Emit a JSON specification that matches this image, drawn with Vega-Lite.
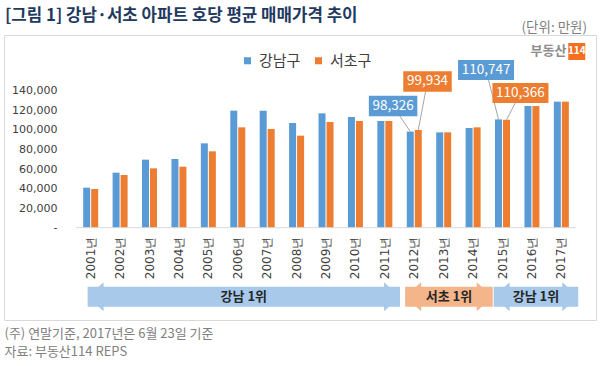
{
  "$schema": "https://vega.github.io/schema/vega-lite/v6.json",
  "width": 592,
  "height": 285,
  "autosize": {"type": "none"},
  "padding": {"left": 4, "top": 35, "right": 4, "bottom": 46},
  "background": "white",
  "title": {
    "text": "[그림 1] 강남·서초 아파트 호당 평균 매매가격 추이",
    "anchor": "start",
    "frame": "group",
    "font": "Noto Sans CJK KR",
    "fontSize": 16.8,
    "fontWeight": "bold",
    "color": "#1F3A60",
    "offset": -4,
    "dx": 1
  },
  "config": {
    "view": {"stroke": "#D9D9D9", "strokeWidth": 1},
    "font": "Noto Sans CJK KR"
  },
  "datasets": {
    "prices": [
      {"year": 2001, "강남구": 40930, "서초구": 39570},
      {"year": 2002, "강남구": 56270, "서초구": 53890},
      {"year": 2003, "강남구": 69560, "서초구": 60700},
      {"year": 2004, "강남구": 70250, "서초구": 62400},
      {"year": 2005, "강남구": 86270, "서초구": 78090},
      {"year": 2006, "강남구": 119660, "서초구": 102630},
      {"year": 2007, "강남구": 119660, "서초구": 100920},
      {"year": 2008, "강남구": 107060, "서초구": 94100},
      {"year": 2009, "강남구": 116950, "서초구": 108080},
      {"year": 2010, "강남구": 113190, "서초구": 109100},
      {"year": 2011, "강남구": 109100, "서초구": 109100},
      {"year": 2012, "강남구": 98326, "서초구": 99934},
      {"year": 2013, "강남구": 97510, "서초구": 97500},
      {"year": 2014, "강남구": 101940, "서초구": 102630},
      {"year": 2015, "강남구": 110747, "서초구": 110366},
      {"year": 2016, "강남구": 124440, "서초구": 124400},
      {"year": 2017, "강남구": 128870, "서초구": 128900}
    ],
    "callouts": [
      {"series": "강남구", "year": 2012, "value": 98326, "lyear": 2011.28, "lvalue": 124400},
      {"series": "서초구", "year": 2012, "value": 99934, "lyear": 2012.45, "lvalue": 149500},
      {"series": "강남구", "year": 2015, "value": 110747, "lyear": 2014.44, "lvalue": 161250},
      {"series": "서초구", "year": 2015, "value": 110366, "lyear": 2015.61, "lvalue": 137700}
    ],
    "arrows": [
      {"label": "강남 1위", "kind": "강남", "start": 2000.896, "end": 2011.515},
      {"label": "서초 1위", "kind": "서초", "start": 2011.69, "end": 2014.667},
      {"label": "강남 1위", "kind": "강남", "start": 2014.70, "end": 2017.574}
    ]
  },
  "layer": [
    {
      "data": {"name": "prices"},
      "mark": {"type": "bar", "width": 7, "xOffset": -4},
      "encoding": {
        "x": {
          "field": "year", "type": "quantitative",
          "scale": {"domain": [1998.223, 2018.008], "nice": false, "zero": false},
          "axis": {
            "labels": false, "domain": false, "ticks": false, "grid": false, "offset": -92.3,
            "title": ["(주) 연말기준, 2017년은 6월 23일 기준", "자료: 부동산114 REPS"],
            "titleAnchor": "start", "titleAlign": "left", "titleBaseline": "top",
            "titleFontSize": 13, "titleFontWeight": "normal", "titleColor": "#808080",
            "titleFont": "Noto Sans CJK KR", "titlePadding": 100, "titleLineHeight": 18
          }
        },
        "y": {
          "field": "강남구", "type": "quantitative",
          "scale": {"domain": [-94380, 197040], "nice": false, "zero": false},
          "axis": {
            "values": [0, 20000, 40000, 60000, 80000, 100000, 120000, 140000],
            "labelExpr": "datum.value == 0 ? '-' : format(datum.value, ',')",
            "domain": false, "ticks": false, "grid": false, "offset": -53,
            "labelPadding": 0, "labelFontSize": 11, "labelFont": "DejaVu Sans", "labelColor": "#404040",
            "title": null
          }
        },
        "y2": {"datum": 0},
        "color": {
          "datum": "강남구", "type": "nominal",
          "scale": {"domain": ["강남구", "서초구"], "range": ["#5B9BD5", "#ED7D31"]},
          "legend": {
            "orient": "none", "legendX": 236, "legendY": 18, "direction": "horizontal",
            "title": null, "symbolType": "square", "symbolSize": 50,
            "labelFontSize": 15, "labelFont": "Noto Sans CJK KR", "labelColor": "#404040",
            "columnPadding": 10, "labelOffset": 4
          }
        }
      }
    },
    {
      "data": {"name": "prices"},
      "mark": {"type": "bar", "width": 7, "xOffset": 4},
      "encoding": {
        "x": {"field": "year", "type": "quantitative"},
        "y": {"field": "서초구", "type": "quantitative"},
        "y2": {"datum": 0},
        "color": {"datum": "서초구", "type": "nominal"}
      }
    },
    {
      "data": {"name": "prices"},
      "transform": [{"calculate": "datum.year + '년'", "as": "yearLabel"}],
      "mark": {"type": "text", "angle": 270, "align": "right", "baseline": "middle", "fontSize": 12, "font": "DejaVu Sans", "color": "#404040"},
      "encoding": {
        "x": {"field": "year", "type": "quantitative"},
        "y": {"datum": -9200, "type": "quantitative"},
        "text": {"field": "yearLabel"}
      }
    },
    {
      "data": {"values": [{}]},
      "mark": {"type": "rule", "color": "#D9D9D9", "strokeWidth": 1},
      "encoding": {
        "x": {"datum": 2000.5, "type": "quantitative"},
        "x2": {"datum": 2017.5},
        "y": {"datum": 0, "type": "quantitative"}
      }
    },
    {
      "data": {"name": "callouts"},
      "transform": [{"filter": "datum.series == '강남구'"}],
      "mark": {"type": "rule", "color": "#A6A6A6", "strokeWidth": 1, "xOffset": -4},
      "encoding": {
        "x": {"field": "year", "type": "quantitative"},
        "x2": {"field": "lyear"},
        "y": {"field": "value", "type": "quantitative"},
        "y2": {"field": "lvalue"}
      }
    },
    {
      "data": {"name": "callouts"},
      "transform": [{"filter": "datum.series == '서초구'"}],
      "mark": {"type": "rule", "color": "#A6A6A6", "strokeWidth": 1, "xOffset": 4},
      "encoding": {
        "x": {"field": "year", "type": "quantitative"},
        "x2": {"field": "lyear"},
        "y": {"field": "value", "type": "quantitative"},
        "y2": {"field": "lvalue"}
      }
    },
    {
      "data": {"name": "callouts"},
      "mark": {"type": "point", "filled": true, "opacity": 1, "strokeWidth": 0, "size": 625},
      "encoding": {
        "x": {"field": "lyear", "type": "quantitative"},
        "y": {"field": "lvalue", "type": "quantitative"},
        "shape": {
          "condition": {"test": "datum.value >= 100000", "value": "M-2.24,-0.8L2.24,-0.8L2.24,0.8L-2.24,0.8Z"},
          "value": "M-1.94,-0.82L1.94,-0.82L1.94,0.82L-1.94,0.82Z"
        },
        "fill": {
          "condition": {"test": "datum.series == '강남구'", "value": "#5B9BD5"},
          "value": "#ED7D31"
        }
      }
    },
    {
      "data": {"name": "callouts"},
      "mark": {"type": "text", "color": "white", "fontSize": 13.5, "font": "Noto Sans CJK KR", "align": "center", "baseline": "middle"},
      "encoding": {
        "x": {"field": "lyear", "type": "quantitative"},
        "y": {"field": "lvalue", "type": "quantitative"},
        "text": {"field": "value", "type": "quantitative", "format": ","}
      }
    },
    {
      "data": {"name": "arrows"},
      "mark": {"type": "rect"},
      "encoding": {
        "x": {"field": "start", "type": "quantitative"},
        "x2": {"field": "end"},
        "y": {"datum": -60300, "type": "quantitative"},
        "y2": {"datum": -80800},
        "fill": {"condition": {"test": "datum.kind == '서초'", "value": "#F5B58B"}, "value": "#A8C9EA"}
      }
    },
    {
      "data": {"name": "arrows"},
      "mark": {"type": "point", "filled": true, "opacity": 1, "strokeWidth": 0, "size": 841, "shape": "M0,0L1.1,-1L1.1,1Z"},
      "encoding": {
        "x": {"field": "start", "type": "quantitative"},
        "y": {"datum": -70550, "type": "quantitative"},
        "fill": {"condition": {"test": "datum.kind == '서초'", "value": "#F5B58B"}, "value": "#A8C9EA"}
      }
    },
    {
      "data": {"name": "arrows"},
      "mark": {"type": "point", "filled": true, "opacity": 1, "strokeWidth": 0, "size": 841, "shape": "M0,0L-1.1,-1L-1.1,1Z"},
      "encoding": {
        "x": {"field": "end", "type": "quantitative"},
        "y": {"datum": -70550, "type": "quantitative"},
        "fill": {"condition": {"test": "datum.kind == '서초'", "value": "#F5B58B"}, "value": "#A8C9EA"}
      }
    },
    {
      "data": {"name": "arrows"},
      "transform": [{"calculate": "(datum.start + datum.end) / 2", "as": "mid"}],
      "mark": {"type": "text", "color": "#262626", "fontSize": 13, "fontWeight": "bold", "font": "Noto Sans CJK KR", "align": "center", "baseline": "middle"},
      "encoding": {
        "x": {"field": "mid", "type": "quantitative"},
        "y": {"datum": -70550, "type": "quantitative"},
        "text": {"field": "label"}
      }
    },
    {
      "data": {"values": [{"unit": "(단위: 만원)"}]},
      "mark": {"type": "text", "color": "#7F7F7F", "fontSize": 13.5, "font": "Noto Sans CJK KR", "align": "right", "baseline": "middle"},
      "encoding": {
        "x": {"datum": 2017.875, "type": "quantitative"},
        "y": {"datum": 204200, "type": "quantitative"},
        "text": {"field": "unit"}
      }
    },
    {
      "data": {"values": [{"brand": "부동산"}]},
      "mark": {"type": "text", "color": "#8C8C8C", "fontSize": 13, "fontWeight": "bold", "font": "Noto Sans CJK KR", "align": "right", "baseline": "middle"},
      "encoding": {
        "x": {"datum": 2017.17, "type": "quantitative"},
        "y": {"datum": 180170, "type": "quantitative"},
        "text": {"field": "brand"}
      }
    },
    {
      "data": {"values": [{"num": "114"}]},
      "mark": {"type": "point", "shape": "square", "filled": true, "opacity": 1, "strokeWidth": 0, "size": 289, "color": "#F37021"},
      "encoding": {
        "x": {"datum": 2017.524, "type": "quantitative"},
        "y": {"datum": 180170, "type": "quantitative"}
      }
    },
    {
      "data": {"values": [{"num": "114"}]},
      "mark": {"type": "text", "color": "white", "fontSize": 10, "fontWeight": "bold", "font": "Noto Sans CJK KR", "align": "center", "baseline": "middle"},
      "encoding": {
        "x": {"datum": 2017.524, "type": "quantitative"},
        "y": {"datum": 180170, "type": "quantitative"},
        "text": {"field": "num"}
      }
    }
  ]
}
